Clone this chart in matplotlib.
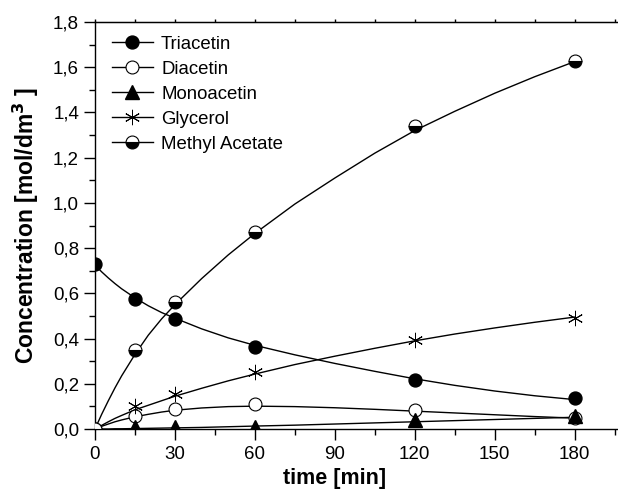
import matplotlib
matplotlib.use("Agg")
import matplotlib.pyplot as plt
from matplotlib.lines import Line2D
from matplotlib.ticker import MultipleLocator, FuncFormatter, NullFormatter

plt.rcParams["font.family"] = ["Liberation Sans", "DejaVu Sans"]

# measured points
time_pts = [0, 15, 30, 60, 120, 180]
triacetin = [0.728, 0.575, 0.487, 0.364, 0.218, 0.135]
diacetin = [0.0, 0.057, 0.087, 0.112, 0.082, 0.048]
monoacetin = [0.0, 0.008, 0.008, 0.008, 0.040, 0.058]
glycerol = [0.0, 0.102, 0.153, 0.250, 0.393, 0.492]
methyl_acetate = [0.0, 0.350, 0.560, 0.872, 1.340, 1.627]

# model curves
time_fit = [0, 2.5, 5, 7.5, 10, 15, 20, 25, 30, 40, 50, 60, 75, 90, 105, 120, 135, 150, 165, 180]
triacetin_fit = [0.725, 0.695, 0.668, 0.643, 0.620, 0.580, 0.545, 0.515, 0.490, 0.443, 0.403, 0.370,
                 0.328, 0.290, 0.255, 0.222, 0.193, 0.168, 0.147, 0.130]
diacetin_fit = [0.0, 0.012, 0.022, 0.032, 0.040, 0.054, 0.065, 0.075, 0.083, 0.093, 0.099, 0.101,
                0.099, 0.094, 0.087, 0.079, 0.071, 0.063, 0.055, 0.048]
monoacetin_fit = [0.0, 0.0, 0.0, 0.001, 0.001, 0.002, 0.003, 0.004, 0.005, 0.007, 0.010, 0.013,
                  0.017, 0.022, 0.027, 0.032, 0.037, 0.042, 0.047, 0.052]
glycerol_fit = [0.0, 0.016, 0.032, 0.047, 0.060, 0.085, 0.105, 0.125, 0.145, 0.180, 0.213, 0.243,
                0.285, 0.322, 0.357, 0.390, 0.420, 0.447, 0.472, 0.495]
methyl_acetate_fit = [0.0, 0.065, 0.125, 0.182, 0.235, 0.330, 0.415, 0.487, 0.550, 0.665, 0.770, 0.865,
                      0.995, 1.110, 1.220, 1.320, 1.405, 1.485, 1.558, 1.625]

labels = ["Triacetin", "Diacetin", "Monoacetin", "Glycerol", "Methyl Acetate"]

fig = plt.figure(figsize=(6.18, 4.9), dpi=100)
ax = fig.add_axes([95 / 618, 61 / 490, 533 / 618, 407 / 490])

lw = 1.0
for fit in [triacetin_fit, diacetin_fit, monoacetin_fit, glycerol_fit, methyl_acetate_fit]:
    ax.plot(time_fit, fit, color="black", lw=lw, zorder=2)

styles = [
    dict(marker="o", markersize=9.3, markerfacecolor="black", markeredgecolor="black"),
    dict(marker="o", markersize=9.3, markerfacecolor="white", markeredgecolor="black", markeredgewidth=0.8),
    dict(marker="^", markersize=9.5, markerfacecolor="black", markeredgecolor="black"),
    dict(marker=(6, 2, 0), markersize=11, markeredgecolor="black", markeredgewidth=0.7),
    dict(marker="o", markersize=9.3, fillstyle="bottom", markerfacecolor="black",
         markerfacecoloralt="white", markeredgecolor="black", markeredgewidth=0.8),
]
series = [triacetin, diacetin, monoacetin, glycerol, methyl_acetate]
for vals, st in zip(series, styles):
    ax.plot(time_pts, vals, linestyle="none", zorder=3, **st)

handles = [Line2D([0], [0], color="black", lw=lw, **st) for st in styles]
ax.legend(handles, labels, loc="upper left", bbox_to_anchor=(0.0, 1.008), frameon=False,
          fontsize=13.4, handlelength=2.2, handletextpad=0.45, labelspacing=0.43,
          borderaxespad=0.5)

ax.set_xlim(0, 200)
ax.set_ylim(0, 1.8)
ax.xaxis.set_major_locator(MultipleLocator(30))
ax.xaxis.set_minor_locator(MultipleLocator(15))
ax.yaxis.set_major_locator(MultipleLocator(0.2))
ax.yaxis.set_minor_locator(MultipleLocator(0.1))
ax.yaxis.set_major_formatter(FuncFormatter(lambda v, p: f"{v:.1f}".replace(".", ",")))

ax.tick_params(axis="both", which="major", direction="out", length=8, width=1, labelsize=13.5)
ax.tick_params(axis="both", which="minor", direction="out", length=4, width=1)
ax.tick_params(axis="x", which="major", pad=4)
for s in ax.spines.values():
    s.set_linewidth(1.0)
ax.spines["right"].set_visible(False)

# small ticks on the top frame
top = ax.secondary_xaxis("top")
top.xaxis.set_major_locator(MultipleLocator(15))
top.xaxis.set_major_formatter(NullFormatter())
top.tick_params(direction="out", length=2, width=1)

ax.set_xlabel("time [min]", fontsize=15.5, fontweight="bold")
ax.xaxis.set_label_coords(0.45, -0.095)
ax.set_ylabel("Concentration [mol/dm$^{\\mathbf{3}}$ ]", fontsize=16.5, fontweight="bold")
ax.yaxis.set_label_coords(-0.102, 0.5)

fig.savefig("out.png", dpi=100)
